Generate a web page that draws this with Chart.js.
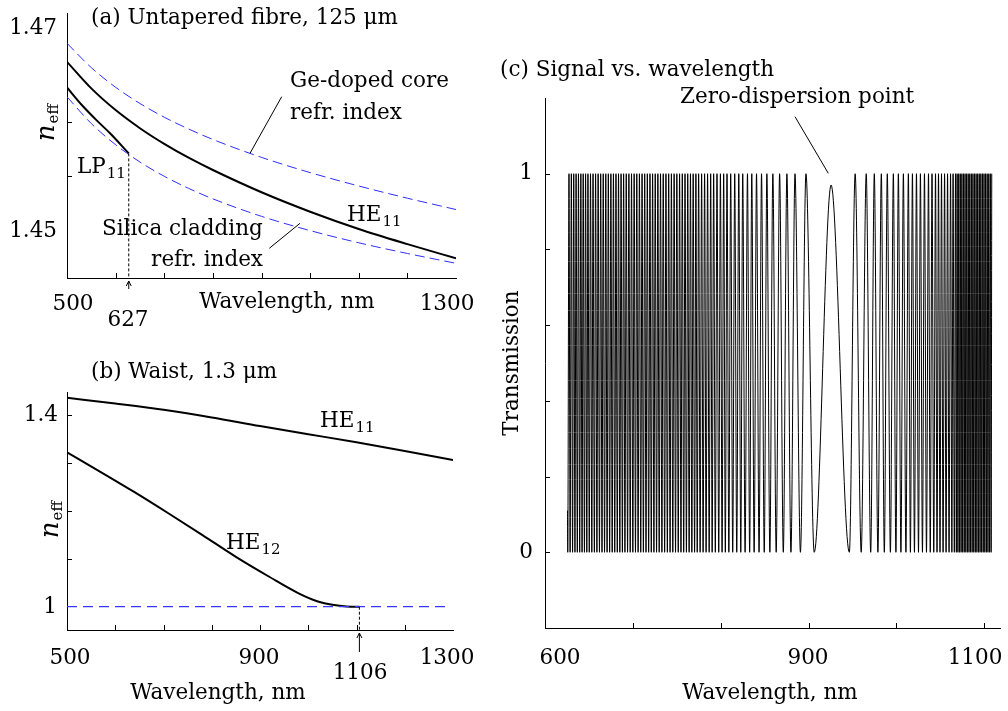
<!DOCTYPE html>
<html>
<head>
<meta charset="utf-8">
<script src="https://cdn.jsdelivr.net/npm/chart.js@4.4.1/dist/chart.umd.min.js"></script>
<style>
  html, body { margin: 0; padding: 0; background: #fff; }
  #wrap { position: relative; width: 1008px; height: 711px; }
  #wrap canvas { position: absolute; left: 0; top: 0; }
</style>
</head>
<body>
<div id="wrap">
  <canvas id="panelA" width="1008" height="711"></canvas>
  <canvas id="panelB" width="1008" height="711"></canvas>
  <canvas id="panelC" width="1008" height="711"></canvas>
</div>
<script>
// ---- (a) untapered fibre ----
const untaperedNm = [500, 550, 600, 650, 700, 750, 800, 900, 1000, 1100, 1200, 1300];
const coreIndex = [1.46730, 1.46504, 1.46322, 1.46172, 1.46045, 1.45936, 1.45839, 1.45673, 1.45532, 1.45408, 1.45295, 1.45190];
const he11Untapered = [1.46558, 1.46312, 1.46111, 1.45943, 1.45798, 1.45670, 1.45556, 1.45350, 1.45170, 1.45010, 1.44870, 1.44738];
const claddingIndex = [1.46234, 1.45986, 1.45790, 1.45630, 1.45498, 1.45386, 1.45289, 1.45127, 1.44995, 1.44882, 1.44783, 1.44692];
const lp11Nm = [500, 530, 560, 590, 627];
const lp11Index = [1.4632, 1.4616, 1.4602, 1.4589, 1.4571];
const lp11Cutoff = 627;

// ---- (b) waist ----
const waistNm = [500, 600, 700, 800, 900, 1000, 1100, 1200, 1300];
const he11Waist = [1.436, 1.424, 1.411, 1.395, 1.377, 1.360, 1.343, 1.325, 1.306];
const he12Nm = [500, 570, 640, 710, 780, 850, 920, 980, 1020, 1050, 1080, 1106];
const he12Waist = [1.322, 1.281, 1.239, 1.195, 1.150, 1.104, 1.062, 1.028, 1.011, 1.004, 1.0005, 1.000];
const airNm = [500, 1290];
const airIndex = [1, 1];
const he12Cutoff = 1106;

// ---- (c) transmission fringes: extrema positions, trough / peak alternating ----
const signalLeadIn = [625.6, 0.11];
const fringeNm = [
  625.9, 627.3, 628.6, 630.0, 631.4, 632.7, 634.1, 635.4, 636.8, 638.1, 639.5, 640.8,
  642.2, 643.5, 644.9, 646.2, 647.6, 648.9, 650.4, 651.8, 653.3, 654.7, 656.2, 657.6,
  659.1, 660.5, 662.0, 663.4, 664.9, 666.3, 667.8, 669.2, 670.7, 672.1, 673.6, 675.0,
  676.5, 677.9, 679.4, 680.8, 682.3, 683.7, 685.2, 686.6, 688.1, 689.5, 691.0, 692.5,
  694.0, 695.5, 697.0, 698.5, 700.0, 701.5, 703.0, 704.5, 706.0, 707.5, 709.0, 710.5,
  712.0, 713.5, 715.0, 716.5, 718.0, 719.5, 721.0, 722.5, 724.0, 725.5, 727.0, 728.5,
  730.0, 731.5, 733.1, 734.6, 736.2, 737.7, 739.3, 740.8, 742.4, 743.9, 745.5, 747.0,
  748.6, 750.1, 751.7, 753.2, 754.8, 756.3, 757.9, 759.4, 761.0, 762.5, 764.1, 765.6,
  767.2, 768.7, 770.3, 771.8, 773.3, 774.9, 776.6, 778.3, 780.0, 781.7, 783.4, 785.1,
  786.9, 788.6, 790.3, 792.0, 793.9, 795.8, 797.8, 799.7, 801.6, 803.4, 805.3, 807.2,
  809.3, 811.4, 813.7, 816.0, 818.3, 820.6, 822.9, 825.1, 827.8, 830.5, 833.0, 835.4,
  838.1, 840.8, 843.7, 846.5, 849.6, 852.6, 856.0, 859.4, 863.2, 867.1, 871.3, 875.4,
  880.0, 884.6, 890.8, 897.1, 906.5, 925.7, 946.5, 953.1, 960.0, 965.7, 970.8, 974.9,
  979.0, 982.9, 986.3, 989.7, 993.2, 996.6, 999.5, 1002.3, 1005.2, 1008.0, 1010.9, 1013.7,
  1016.0, 1018.3, 1020.6, 1022.9, 1025.2, 1027.4, 1029.7, 1032.0, 1034.3, 1036.6, 1038.6, 1040.6,
  1042.6, 1044.6, 1046.3, 1048.0, 1049.7, 1051.4, 1053.2, 1054.9, 1056.6, 1058.3, 1060.0, 1061.7,
  1063.2, 1064.6, 1066.0, 1067.4, 1068.3, 1069.2, 1070.1, 1071.0, 1071.9, 1072.8, 1073.7, 1074.6,
  1075.5, 1076.4, 1077.3, 1078.2, 1079.1, 1080.0, 1080.9, 1081.8, 1082.7, 1083.6, 1084.5, 1085.4,
  1086.3, 1087.2, 1088.1, 1089.0, 1089.9, 1090.8, 1091.7, 1092.6, 1093.5, 1094.4, 1095.3, 1096.2,
  1097.1, 1098.0, 1098.9, 1099.8, 1100.7, 1101.6, 1102.5, 1103.4, 1104.3, 1105.2, 1106.1, 1107.0,
  1107.9, 1108.6
];
const zeroDispersionNm = 925.7;
const zeroDispersionPeak = 0.97;
const troughLevel = 0;
const peakLevel = 1;

const serif = '"DejaVu Serif", serif';
const fontSize = 21.5;
const blue = '#2f2fff';

const pts = (xs, ys) => xs.map((x, i) => ({ x: x, y: ys[i] }));

const signalPoints = [{ x: signalLeadIn[0], y: signalLeadIn[1] }].concat(
  fringeNm.map((nm, i) => {
    let level = i % 2 === 0 ? troughLevel : peakLevel;
    if (nm === zeroDispersionNm) level = zeroDispersionPeak;
    return { x: nm, y: level };
  })
);

// ---- drawing helpers ----
function text(ctx, s, x, y, align, size, style) {
  ctx.font = (style || '') + ' ' + (size || fontSize) + 'px ' + serif;
  ctx.textAlign = align || 'center';
  ctx.textBaseline = 'middle';
  ctx.fillStyle = '#000';
  ctx.fillText(s, x, y);
}

function subText(ctx, base, sub, x, baseline, size) {
  size = size || fontSize;
  ctx.fillStyle = '#000';
  ctx.textAlign = 'left';
  ctx.textBaseline = 'alphabetic';
  ctx.font = size + 'px ' + serif;
  const w = ctx.measureText(base).width;
  ctx.fillText(base, x, baseline);
  ctx.font = Math.round(size * 0.72) + 'px ' + serif;
  ctx.fillText(sub, x + w + 1, baseline + size * 0.22);
}

function neffTitle(ctx, cx, cy) {
  ctx.save();
  ctx.translate(cx, cy);
  ctx.rotate(-Math.PI / 2);
  ctx.fillStyle = '#000';
  ctx.textBaseline = 'alphabetic';
  ctx.textAlign = 'left';
  ctx.font = 'italic 26px ' + serif;
  const wn = ctx.measureText('n').width;
  ctx.font = '15px ' + serif;
  const we = ctx.measureText('eff').width;
  const x0 = -(wn + we) / 2;
  ctx.font = 'italic 26px ' + serif;
  ctx.fillText('n', x0, 6);
  ctx.font = '15px ' + serif;
  ctx.fillText('eff', x0 + wn + 1, 10);
  ctx.restore();
}

function line(ctx, x1, y1, x2, y2, dash) {
  ctx.save();
  ctx.strokeStyle = '#000';
  ctx.lineWidth = 1;
  ctx.setLineDash(dash || []);
  ctx.beginPath();
  ctx.moveTo(x1, y1);
  ctx.lineTo(x2, y2);
  ctx.stroke();
  ctx.restore();
}

function upArrow(ctx, x, yTip, yTail) {
  line(ctx, x, yTail, x, yTip);
  ctx.save();
  ctx.strokeStyle = '#000';
  ctx.lineWidth = 1;
  ctx.beginPath();
  ctx.moveTo(x - 2.5, yTip + 5);
  ctx.lineTo(x, yTip);
  ctx.lineTo(x + 2.5, yTip + 5);
  ctx.stroke();
  ctx.restore();
}

function ticks(chart, xs, ys, len) {
  const { ctx, chartArea, scales } = chart;
  ctx.save();
  ctx.strokeStyle = '#000';
  ctx.lineWidth = 1;
  ctx.beginPath();
  xs.forEach(v => {
    const x = Math.round(scales.x.getPixelForValue(v)) + 0.5;
    ctx.moveTo(x, chartArea.bottom);
    ctx.lineTo(x, chartArea.bottom - len);
  });
  ys.forEach(v => {
    const y = Math.round(scales.y.getPixelForValue(v)) + 0.5;
    ctx.moveTo(chartArea.left, y);
    ctx.lineTo(chartArea.left + len, y);
  });
  ctx.stroke();
  ctx.restore();
}

function axisScales(xmin, xmax, ymin, ymax) {
  const axis = (min, max) => ({
    type: 'linear', min: min, max: max,
    ticks: { display: false },
    grid: { display: false, drawTicks: false, tickLength: 0 },
    border: { display: true, color: '#000', width: 1 }
  });
  return { x: axis(xmin, xmax), y: axis(ymin, ymax) };
}

const baseOptions = (padding, scales) => ({
  responsive: false,
  animation: false,
  layout: { padding: padding },
  scales: scales,
  elements: { point: { radius: 0 } },
  plugins: { legend: { display: false }, tooltip: { enabled: false } }
});

// ---- panel (a) ----
new Chart(document.getElementById('panelA'), {
  type: 'line',
  data: {
    datasets: [
      { data: pts(untaperedNm, coreIndex), borderColor: blue, borderWidth: 1, borderDash: [10, 5], cubicInterpolationMode: 'monotone' },
      { data: pts(untaperedNm, claddingIndex), borderColor: blue, borderWidth: 1, borderDash: [10, 5], cubicInterpolationMode: 'monotone' },
      { data: pts(untaperedNm, he11Untapered), borderColor: '#000', borderWidth: 2, cubicInterpolationMode: 'monotone' },
      { data: pts(lp11Nm, lp11Index), borderColor: '#000', borderWidth: 2, cubicInterpolationMode: 'monotone' }
    ]
  },
  options: baseOptions({ left: 67, top: 13, right: 552, bottom: 433 },
    axisScales(500, 1300, 1.44556, 1.4701)),
  plugins: [{
    id: 'decoA',
    afterDraw(chart) {
      const { ctx, scales } = chart;
      ticks(chart, [600, 700, 800, 900, 1000, 1100, 1200], [1.455, 1.46], 5);
      const xc = scales.x.getPixelForValue(lp11Cutoff);
      line(ctx, xc, scales.y.getPixelForValue(lp11Index[lp11Index.length - 1]), xc, chart.chartArea.bottom, [3, 2]);
      upArrow(ctx, xc, 281, 289);
      text(ctx, '(a) Untapered fibre, 125 μm', 91, 18, 'left');
      text(ctx, '1.47', 57, 28, 'right');
      text(ctx, '1.45', 57, 231, 'right');
      text(ctx, '500', 73, 304);
      text(ctx, '1300', 447, 304);
      text(ctx, '627', 128, 320);
      text(ctx, 'Wavelength, nm', 287, 302);
      text(ctx, 'Ge-doped core', 290, 81, 'left');
      text(ctx, 'refr. index', 290, 113, 'left');
      text(ctx, 'Silica cladding', 102, 229, 'left');
      text(ctx, 'refr. index', 263, 260, 'right');
      line(ctx, 281.7, 96.7, 250, 153.3);
      line(ctx, 269.3, 248.3, 300, 223.3);
      subText(ctx, 'LP', '11', 77, 173);
      subText(ctx, 'HE', '11', 347, 221);
      neffTitle(ctx, 48, 123);
    }
  }]
});

// ---- panel (b) ----
new Chart(document.getElementById('panelB'), {
  type: 'line',
  data: {
    datasets: [
      { data: pts(airNm, airIndex), borderColor: '#3a3aff', borderWidth: 1.3, borderDash: [10, 6] },
      { data: pts(waistNm, he11Waist), borderColor: '#000', borderWidth: 2, cubicInterpolationMode: 'monotone' },
      { data: pts(he12Nm, he12Waist), borderColor: '#000', borderWidth: 2, cubicInterpolationMode: 'monotone' }
    ]
  },
  options: baseOptions({ left: 67, top: 392, right: 555, bottom: 81 },
    axisScales(500, 1300, 0.9514, 1.448)),
  plugins: [{
    id: 'decoB',
    afterDraw(chart) {
      const { ctx, scales } = chart;
      ticks(chart, [600, 700, 800, 900, 1000, 1100, 1200], [1.1, 1.2, 1.3, 1.4], 5);
      const xc = scales.x.getPixelForValue(he12Cutoff);
      line(ctx, xc, scales.y.getPixelForValue(1), xc, chart.chartArea.bottom, [3, 2]);
      upArrow(ctx, xc, 633, 652);
      text(ctx, '(b) Waist, 1.3 μm', 91, 372, 'left');
      text(ctx, '1.4', 58, 415, 'right');
      text(ctx, '1', 57, 607, 'right');
      text(ctx, '500', 70, 658);
      text(ctx, '900', 259, 658);
      text(ctx, '1300', 447, 658);
      text(ctx, '1106', 360, 673);
      text(ctx, 'Wavelength, nm', 218, 693);
      subText(ctx, 'HE', '11', 320, 427);
      subText(ctx, 'HE', '12', 226, 549);
      neffTitle(ctx, 52, 520);
    }
  }]
});

// ---- panel (c) ----
new Chart(document.getElementById('panelC'), {
  type: 'line',
  data: {
    datasets: [
      { data: signalPoints, borderColor: '#000', borderWidth: 1, cubicInterpolationMode: 'monotone' }
    ]
  },
  options: baseOptions({ left: 545, top: 98, right: 8, bottom: 83 },
    axisScales(600, 1118, -0.2, 1.2)),
  plugins: [{
    id: 'decoC',
    afterDraw(chart) {
      const { ctx } = chart;
      ticks(chart, [700, 800, 900, 1000, 1100], [0, 0.2, 0.4, 0.6, 0.8, 1], 5);
      text(ctx, '(c) Signal vs. wavelength', 500, 70, 'left');
      text(ctx, 'Zero-dispersion point', 680, 97, 'left');
      line(ctx, 795, 116.7, 828.3, 173.3);
      text(ctx, '1', 533, 173, 'right');
      text(ctx, '0', 533, 552, 'right');
      text(ctx, '600', 560, 658);
      text(ctx, '900', 808, 658);
      text(ctx, '1100', 975, 658);
      text(ctx, 'Wavelength, nm', 770, 693);
      ctx.save();
      ctx.translate(512, 363);
      ctx.rotate(-Math.PI / 2);
      text(ctx, 'Transmission', 0, 0);
      ctx.restore();
    }
  }]
});
</script>
</body>
</html>
